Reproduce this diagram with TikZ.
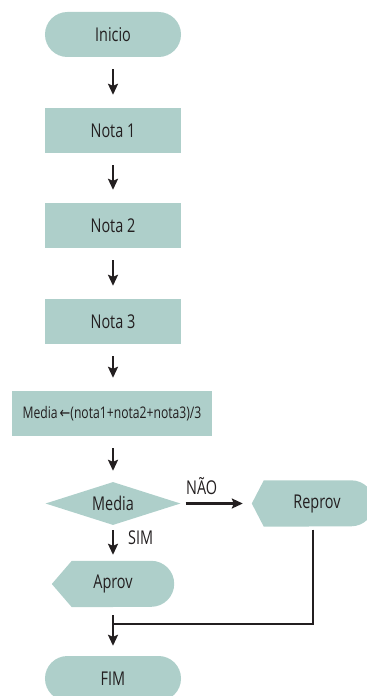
\documentclass[tikz,border=0pt]{standalone}
\usepackage{fontspec}
\setmainfont[FakeStretch=0.76]{Open Sans}
\newfontfamily\arrowfont[FakeStretch=0.8]{DejaVu Sans}
\usepackage{tikz}
\usetikzlibrary{positioning,arrows.meta,shapes.geometric,backgrounds}
\definecolor{flowfill}{RGB}{174,207,202}
\definecolor{flowink}{RGB}{35,31,32}
\tikzset{
  flowarrow/.style={-{Stealth[length=11bp, width=10bp, inset=2bp]}, line width=2.2bp, draw=flowink, shorten <=12bp, shorten >=13bp},
  flowline/.style={line width=2.2bp, draw=flowink},
  terminal/.style={fill=flowfill, rounded corners=22.4bp, minimum width=136bp, minimum height=45bp, inner sep=0pt},
  procbox/.style={fill=flowfill, minimum width=136bp, minimum height=45bp, inner sep=0pt},
  calcbox/.style={fill=flowfill, minimum width=199bp, minimum height=45bp, inner sep=0pt, font=\fontsize{16bp}{20bp}\selectfont},
  decision/.style={diamond, fill=flowfill, aspect=3, minimum width=135bp, minimum height=43bp, inner sep=0pt},
  showbox/.style={minimum width=122bp, minimum height=46bp, inner sep=0pt},
  edgelabel/.style={inner sep=0pt}
}

\begin{document}
\begin{tikzpicture}[x=1bp, y=-1bp, text=flowink, every node/.style={font=\fontsize{19bp}{22bp}\selectfont}]
  \useasboundingbox (0,0) rectangle (366,696);
  \node[terminal] (inicio) at (113,34.5) {Inicio};
  \node[procbox] (nota1) at (113,130.5) {Nota 1};
  \node[procbox] (nota2) at (113,225.5) {Nota 2};
  \node[procbox] (nota3) at (113,321.5) {Nota 3};
  \node[calcbox] (media) at (112,413.5) {Media\kern2bp{\arrowfont ←}(nota1+nota2+nota3)/3};
  \node[decision] (teste) at (113,503.5) {Media};
  \node[showbox] (reprov) at (313,503.5) {\hspace{8bp}Reprov};
  \node[showbox] (aprov) at (113,584) {Aprov};
  \node[terminal] (fim) at (113,678.5) {FIM};
  \coordinate (junta) at (113,624);
  \begin{scope}[on background layer]
    \fill[flowfill] ([xshift=12bp]reprov.north west) -- ([xshift=-23bp]reprov.north east)
      arc[start angle=90, end angle=-90, radius=23bp] -- ([xshift=12bp]reprov.south west) -- (reprov.west) -- cycle;
    \fill[flowfill] ([xshift=20bp]aprov.north west) -- ([xshift=-23bp]aprov.north east)
      arc[start angle=90, end angle=-90, radius=23bp] -- ([xshift=20bp]aprov.south west) -- (aprov.west) -- cycle;
  \end{scope}
  \draw[flowarrow] (inicio) -- (nota1);
  \draw[flowarrow] (nota1) -- (nota2);
  \draw[flowarrow] (nota2) -- (nota3);
  \draw[flowarrow] (nota3) -- (nota3 |- media.north);
  \draw[flowarrow, shorten >=11bp] (media.south -| teste) -- (teste);
  \draw[flowarrow, shorten <=5bp, shorten >=9bp] (teste) -- (reprov);
  \draw[flowarrow, shorten <=5bp, shorten >=6bp] (teste) -- (aprov);
  \draw[flowarrow, shorten <=8bp, shorten >=10bp] (aprov) -- (fim);
  \draw[flowline, shorten <=3bp] (reprov.south) |- (junta);
  \node[edgelabel, anchor=base west] (nao) at (186,494) {NÃO};
  \node[edgelabel, anchor=base west] (sim) at (128,544) {SIM};
\end{tikzpicture}
\end{document}
